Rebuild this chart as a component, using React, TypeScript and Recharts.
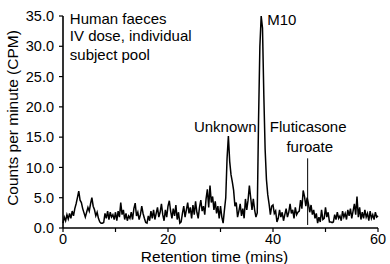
import React from 'react';
import { LineChart, Line, XAxis, YAxis, ReferenceDot, ReferenceLine } from 'recharts';

// Radioactivity trace, one value every 0.25 min from 0 to 60 min (CPM)
const SAMPLE_STEP_MIN = 0.25;
const cpmValues: number[] = [
  // 0-5
  0.8, 1.8, 1.2, 2.2, 1.5, 2.4, 1.6, 2.8, 2.0, 3.2, 4.0, 5.0,
  6.1, 4.6, 4.2, 3.2, 2.5, 1.8, 2.6, 3.4,
  // 5-10
  2.8, 4.0, 5.0, 3.6, 3.0, 2.0, 2.6, 1.6, 1.0, 0.8, 0.8, 0.9,
  2.4, 1.6, 2.8, 1.4, 2.6, 1.8, 2.2, 1.4,
  // 10-15
  2.6, 1.2, 2.8, 1.8, 4.2, 2.2, 3.0, 1.4, 2.4, 1.2, 2.0, 1.6,
  2.6, 1.4, 3.2, 4.1, 2.0, 2.6, 1.4, 2.2,
  // 15-20
  3.6, 2.4, 1.6, 0.9, 0.8, 2.0, 1.2, 2.8, 1.6, 3.0, 1.4, 2.4,
  3.4, 1.8, 2.6, 4.0, 2.2, 1.2, 3.0, 1.8,
  // 20-25
  3.6, 4.5, 2.8, 1.6, 3.2, 2.0, 3.8, 1.4, 2.6, 0.8, 1.0, 2.4,
  3.6, 1.8, 3.0, 4.2, 2.4, 3.4, 1.6, 3.8,
  // 25-30
  2.2, 4.4, 2.6, 1.6, 3.4, 4.6, 2.8, 3.6, 2.2, 4.8, 6.4, 3.4,
  7.0, 4.2, 5.2, 3.0, 4.4, 2.4, 3.6, 1.6,
  // 30-35
  3.6, 1.8, 0.8, 3.0, 5.0, 11.5, 15.2, 11.0, 8.8, 7.6, 6.2, 3.6,
  4.2, 1.8, 2.8, 4.0, 2.0, 3.2, 1.6, 4.8,
  // 35-40
  3.0, 4.6, 7.0, 5.0, 3.0, 4.8, 3.0, 1.8, 2.5, 18.0, 30.0, 35.0,
  33.0, 22.0, 13.0, 8.0, 5.5, 4.0, 2.2, 3.6,
  // 40-45
  3.8, 2.4, 2.8, 1.0, 1.6, 3.0, 1.8, 2.6, 1.2, 2.2, 3.2, 1.8,
  2.6, 4.0, 2.4, 3.0, 1.6, 3.4, 2.2, 2.6,
  // 45-50
  2.8, 4.6, 3.2, 6.2, 5.2, 3.6, 5.0, 4.0, 2.6, 3.8, 2.2, 3.0,
  1.6, 2.4, 0.8, 1.8, 1.0, 3.0, 1.4, 1.6,
  // 50-55
  3.4, 1.8, 2.6, 1.0, 1.0, 0.9, 1.0, 2.2, 1.4, 2.6, 1.6, 2.0,
  1.2, 2.8, 1.8, 2.4, 1.4, 3.0, 2.0, 3.2,
  // 55-60
  1.6, 2.8, 4.0, 2.2, 5.2, 1.8, 3.4, 1.4, 2.6, 1.6, 3.0, 1.8,
  2.4, 1.2, 2.8, 1.6, 2.2, 1.4, 2.6, 1.8,
  2.0,
];

const xTicks = [0, 10, 20, 30, 40, 50, 60];
const xTickLabels = ['0', '', '20', '', '40', '', '60'];
const yTicks = [0, 5, 10, 15, 20, 25, 30, 35];

const infoLines = ['Human faeces', 'IV dose, individual', 'subject pool'];
const infoAnchor = { t: 1.3, cpm: [34.6, 31.7, 28.7] };

const peakLabels = [
  { text: 'Unknown', t: 30.9, cpm: 16.7, anchor: 'middle' },
  { text: 'M10', t: 38.9, cpm: 34.5, anchor: 'start' },
  { text: 'Fluticasone', t: 46.7, cpm: 16.7, anchor: 'middle' },
  { text: 'furoate', t: 47.0, cpm: 13.4, anchor: 'middle' },
];
const flutMarker = { t: 46.6, from: 0.5, to: 11.5 };

const data = cpmValues.map((v, i) => ({ t: i * SAMPLE_STEP_MIN, cpm: v }));

const FONT = '"Liberation Sans", Arial, Helvetica, sans-serif';

const textShape = (text: string, anchor: string, size = 15) => (p: any) => (
  <text
    x={p.cx}
    y={p.cy}
    textAnchor={anchor as any}
    dominantBaseline="central"
    fontSize={size}
    fontFamily={FONT}
    fill="#000"
  >
    {text}
  </text>
);

const YTitle = (props: any) => {
  const vb = props.viewBox || { x: 0, y: 16, width: 63, height: 212 };
  const cx = vb.x + 12;
  const cy = vb.y + vb.height / 2 - 4;
  return (
    <text
      x={cx}
      y={cy}
      transform={`rotate(-90 ${cx} ${cy})`}
      textAnchor="middle"
      dominantBaseline="central"
      fontSize={15.5}
      fontFamily={FONT}
      fill="#000"
    >
      Counts per minute (CPM)
    </text>
  );
};

const XTitle = (props: any) => {
  const vb = props.viewBox || { x: 63, y: 228, width: 315, height: 36 };
  const cx = vb.x + vb.width / 2 - 6;
  const cy = vb.y + 28;
  return (
    <text
      x={cx}
      y={cy}
      textAnchor="middle"
      dominantBaseline="central"
      fontSize={15.5}
      fontFamily={FONT}
      fill="#000"
    >
      Retention time (mins)
    </text>
  );
};

export default function App() {
  return (
    <div style={{ position: 'absolute', left: 0, top: 0, width: 390, height: 264, background: '#fff' }}>
      <LineChart width={390} height={264} data={data} margin={{ top: 16, right: 12, bottom: 0, left: 0 }}>
        <XAxis
          dataKey="t"
          type="number"
          domain={[0, 60]}
          ticks={xTicks}
          interval={0}
          tickFormatter={(v: number) => xTickLabels[xTicks.indexOf(v)] ?? ''}
          tick={{ fill: '#000', fontSize: 14.5, fontFamily: FONT }}
          tickSize={4}
          tickMargin={2}
          axisLine={{ stroke: '#000', strokeWidth: 1.6 }}
          tickLine={{ stroke: '#000', strokeWidth: 1.2 }}
          height={36}
          label={<XTitle />}
        />
        <YAxis
          type="number"
          domain={[0, 35]}
          ticks={yTicks}
          interval={0}
          tickFormatter={(v: number) => v.toFixed(1)}
          tick={{ fill: '#000', fontSize: 14.5, fontFamily: FONT }}
          tickSize={4}
          tickMargin={5}
          axisLine={{ stroke: '#000', strokeWidth: 1.6 }}
          tickLine={{ stroke: '#000', strokeWidth: 1.2 }}
          width={63}
          label={<YTitle />}
        />
        <Line
          type="linear"
          dataKey="cpm"
          stroke="#000"
          strokeWidth={1.5}
          dot={false}
          isAnimationActive={false}
        />
        <ReferenceLine
          segment={[
            { x: flutMarker.t, y: flutMarker.from },
            { x: flutMarker.t, y: flutMarker.to },
          ]}
          stroke="#000"
          strokeWidth={1}
        />
        {infoLines.map((line, i) => (
          <ReferenceDot
            key={line}
            x={infoAnchor.t}
            y={infoAnchor.cpm[i]}
            r={0}
            ifOverflow="visible"
            shape={textShape(line, 'start', 15)}
          />
        ))}
        {peakLabels.map((l) => (
          <ReferenceDot
            key={l.text}
            x={l.t}
            y={l.cpm}
            r={0}
            ifOverflow="visible"
            shape={textShape(l.text, l.anchor, 15)}
          />
        ))}
      </LineChart>
    </div>
  );
}
